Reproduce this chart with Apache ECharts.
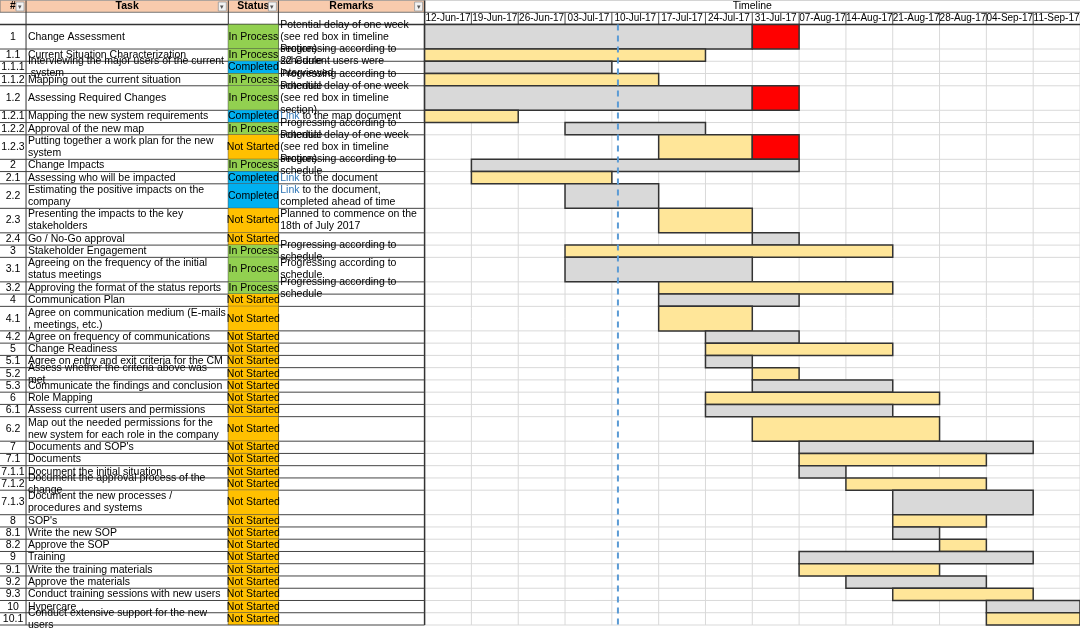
<!DOCTYPE html>
<html><head><meta charset="utf-8">
<script src="https://cdn.jsdelivr.net/npm/echarts@6/dist/echarts.min.js"></script>
<style>html,body{margin:0;padding:0;background:#fff}#c{width:1080px;height:637px}</style>
</head><body><div id="c"></div>
<script>
const weeks = ['12-Jun-17','19-Jun-17','26-Jun-17','03-Jul-17','10-Jul-17','17-Jul-17','24-Jul-17','31-Jul-17','07-Aug-17','14-Aug-17','21-Aug-17','28-Aug-17','04-Sep-17','11-Sep-17'];
const ids = ['1','1.1','1.1.1','1.1.2','1.2','1.2.1','1.2.2','1.2.3','2','2.1','2.2','2.3','2.4','3','3.1','3.2','4','4.1','4.2','5','5.1','5.2','5.3','6','6.1','6.2','7','7.1','7.1.1','7.1.2','7.1.3','8','8.1','8.2','9','9.1','9.2','9.3','10','10.1'];
const tasks = ['Change Assessment','Current Situation Characterization','Interviewing the major users of the current system','Mapping out the current situation','Assessing Required Changes','Mapping the new system requirements','Approval of the new map','Putting together a work plan for the new system','Change Impacts','Assessing who will be impacted','Estimating the positive impacts on the company','Presenting the impacts to the key stakeholders','Go / No-Go approval','Stakeholder Engagement','Agreeing on the frequency of the initial status meetings','Approving the format of the status reports','Communication Plan','Agree on communication medium (E-mails, meetings, etc.)','Agree on frequency of communications','Change Readiness','Agree on entry and exit criteria for the CM','Assess whether the criteria above was met','Communicate the findings and conclusion','Role Mapping','Assess current users and permissions','Map out the needed permissions for the new system for each role in the company','Documents and SOP\'s','Documents','Document the initial situation','Document the approval process of the change','Document the new processes / procedures and systems','SOP\'s','Write the new SOP','Approve the SOP','Training','Write the training materials','Approve the materials','Conduct training sessions with new users','Hypercare','Conduct extensive support for the new users'];
const IP='In Process', CP='Completed', NS='Not Started';
const statuses = [IP,IP,CP,IP,IP,CP,IP,NS,IP,CP,CP,NS,NS,IP,IP,IP,NS,NS,NS,NS,NS,NS,NS,NS,NS,NS,NS,NS,NS,NS,NS,NS,NS,NS,NS,NS,NS,NS,NS,NS];
const PG='Progressing according to schedule', PD='Potential delay of one week (see red box in timeline section)';
const remarks = [PD,PG,'22 Current users were interviewed',PG,PD,'{l|Link} to the map document',PG,PD,PG,'{l|Link} to the document','{l|Link} to the document, completed ahead of time','Planned to commence on the 18th of July 2017','',PG,PG,PG,'','','','','','','','','','','','','','','','','','','','','','','',''];
const rowUnits = [2,1,1,1,2,1,1,2,1,1,2,2,1,1,2,1,1,2,1,1,1,1,1,1,1,2,1,1,1,1,2,1,1,1,1,1,1,1,1,1];
const barRow   = [0,0,1,2,3,4,4,5,6,7,7,8,9,10,11,12,13,14,15,16,17,18,19,20,21,22,23,24,25,26,27,28,29,30,31,32,33,34,35,36,37,38,39];
const barStart = [0,7,0,0,0,0,7,0,3,5,7,1,1,3,5,7,3,3,5,5,5,6,6,6,7,7,6,6,7,8,8,8,9,10,10,10,11,8,8,9,10,12,12];
const barEnd   = [7,8,6,4,5,7,8,2,6,7,8,8,4,5,7,8,10,7,10,8,7,8,10,7,8,10,11,10,11,13,12,9,12,13,12,11,12,13,11,12,13,14,14];
const barKind  = ['g','r','y','g','y','g','r','y','g','y','r','g','y','g','y','g','y','g','y','g','y','g','y','g','y','g','y','g','y','g','y','g','y','g','y','g','y','g','y','g','y','g','y'];
const today = [4.13];

const PXW = 46.75, XMIN = -424/PXW, XMAX = 14;
const colPx = [0,26,228,278,424];
const colX = colPx.map(p => p/PXW + XMIN);
const rowTop = []; let acc = 0; rowUnits.forEach(u => { rowTop.push(acc); acc += u; });
const YMAX = acc;
const statusColor = {[IP]:'#92d050',[CP]:'#00b0f0',[NS]:'#ffc000'};
const barColor = {g:'#d9d9d9',y:'#ffe699',r:'#ff0000'};
const FONT = '"Liberation Sans", Arial, sans-serif';

function rect(api, x0, y0, x1, y1, style){
  const a = api.coord([x0,y0]), b = api.coord([x1,y1]);
  return {type:'rect', shape:{x:a[0], y:a[1], width:b[0]-a[0], height:b[1]-a[1]}, style};
}
function line(api, x0, y0, x1, y1, style){
  const a = api.coord([x0,y0]), b = api.coord([x1,y1]);
  return {type:'line', shape:{x1:a[0], y1:a[1], x2:b[0], y2:b[1]}, style};
}
function txt(api, x, y, text, align, w, extra){
  const p = api.coord([x,y]);
  return {type:'text', x:p[0], y:p[1], style:Object.assign({text, fill:'#000', font:'10.5px '+FONT, align, verticalAlign:'middle', width:w, overflow:w?'break':undefined, lineHeight:12,
    rich:{l:{fill:'#2e75b6', font:'10.5px '+FONT, textDecoration:'underline'}}}, extra||{})};
}

const option = {
  animation:false,
  grid:{left:0, right:0, top:0, bottom:12},
  xAxis:{type:'value', min:XMIN, max:XMAX, show:false},
  yAxis:{type:'value', min:-2, max:YMAX, inverse:true, show:false},
  series:[
  { // background grid + header
    type:'custom', data:[[0]], silent:true, z:1,
    renderItem:(params, api) => {
      const ch = [];
      // timeline light grid
      for (let w=0; w<=weeks.length; w++) ch.push(line(api, w, -1, w, YMAX, {stroke:'#d9d9d9', lineWidth:1}));
      rowTop.forEach((t,i)=>ch.push(line(api, 0, t, XMAX, t, {stroke:'#d9d9d9', lineWidth:1})));
      ch.push(line(api, 0, YMAX, XMAX, YMAX, {stroke:'#d9d9d9', lineWidth:1}));
      // header row
      ch.push(rect(api, colX[0], -2, colX[4], -1, {fill:'#f8cbad', stroke:'#777', lineWidth:1}));
      for (let c=1;c<4;c++) ch.push(line(api, colX[c], -2, colX[c], YMAX, {stroke:'#333', lineWidth:1}));
      const heads = ['#','Task','Status','Remarks'];
      heads.forEach((h,c)=>{
        ch.push(txt(api, (colX[c]+colX[c+1])/2, -1.5, h, 'center', null, {font:'bold 10.5px '+FONT}));
        const r = api.coord([colX[c+1],-2]);
        ch.push({type:'rect', shape:{x:r[0]-10, y:r[1]+2, width:8, height:9}, style:{fill:'#f2f2f2', stroke:'#999', lineWidth:0.8}});
        ch.push({type:'text', x:r[0]-6, y:r[1]+7, style:{text:'▾', font:'7px '+FONT, fill:'#555', align:'center', verticalAlign:'middle'}});
      });
      ch.push(txt(api, XMAX/2, -1.5, 'Timeline', 'center'));
      weeks.forEach((w,i)=>{
        ch.push(txt(api, i+0.5, -0.5, w, 'center', null, {font:'10px '+FONT}));
        ch.push(line(api, i, -1, i, 0, {stroke:'#555', lineWidth:1}));
      });
      ch.push(line(api, 0, -1, XMAX, -1, {stroke:'#555', lineWidth:1}));
      ch.push(line(api, colX[0], 0, XMAX, 0, {stroke:'#333', lineWidth:1.5}));
      ch.push(line(api, colX[4], -2, colX[4], YMAX, {stroke:'#333', lineWidth:1.5}));
      ch.push(line(api, XMIN, -2, XMAX, -2, {stroke:'#aaa', lineWidth:1}));
      return {type:'group', children:ch};
    }
  },
  { // table rows
    type:'custom', data:ids.map((_,i)=>[i]), silent:true, z:2,
    renderItem:(params, api) => {
      const i = api.value(0), t = rowTop[i], b = t + rowUnits[i], m = (t+b)/2;
      const ch = [];
      ch.push(rect(api, colX[2], t, colX[3], b, {fill:statusColor[statuses[i]]}));
      ch.push(line(api, colX[0], b, colX[4], b, {stroke:'#444', lineWidth:1}));
      ch.push(txt(api, (colX[0]+colX[1])/2, m, ids[i], 'center'));
      ch.push(txt(api, colX[1]+0.04, m, tasks[i], 'left', 198));
      ch.push(txt(api, (colX[2]+colX[3])/2, m, statuses[i], 'center'));
      ch.push(txt(api, colX[3]+0.04, m, remarks[i], 'left', 144));
      return {type:'group', children:ch};
    }
  },
  { // bars
    type:'custom', data:barRow.map((r,i)=>[barStart[i], barEnd[i], r, i]), z:3,
    renderItem:(params, api) => {
      const s = api.value(0), e = api.value(1), r = api.value(2), k = barKind[api.value(3)];
      return rect(api, s, rowTop[r], e, rowTop[r]+rowUnits[r], {fill:barColor[k], stroke:'#333', lineWidth:1.5});
    }
  },
  { // today line
    type:'custom', data:today.map(v=>[v]), z:4, silent:true,
    renderItem:(params, api) => line(api, api.value(0), 0, api.value(0), YMAX, {stroke:'#5b9bd5', lineWidth:2, lineDash:[6,5]})
  }]
};
echarts.init(document.getElementById('c')).setOption(option);
</script></body></html>
